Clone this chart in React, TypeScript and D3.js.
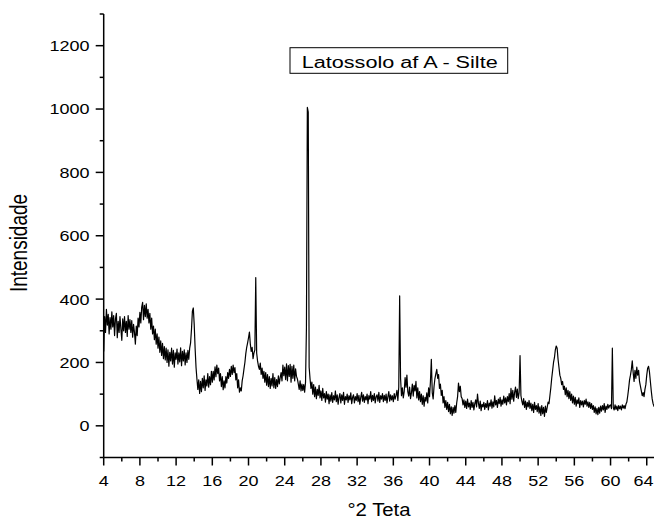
import * as d3 from 'd3';

// diffractogram, step scan in °2θ
const scanStep = 0.1;
const segmentStarts = [4, 14, 26, 40, 53];

// 4.0 - 13.9
const lowAngle = [
  235, 345, 295, 368, 318, 352, 290, 342, 305, 360,
  312, 348, 285, 338, 355, 278, 330, 295, 345, 305,
  270, 338, 300, 345, 295, 330, 282, 348, 305, 335,
  295, 332, 280, 320, 295, 258, 315, 285, 340, 312,
  358, 325, 375, 390, 335, 380, 345, 385, 340, 368,
  325, 355, 305, 340, 290, 315, 272, 305, 258, 290,
  245, 280, 232, 268, 222, 260, 212, 250, 208, 245,
  200, 240, 188, 232, 205, 245, 195, 238, 185, 230,
  210, 242, 195, 230, 202, 246, 190, 235, 205, 240,
  192, 230, 200, 238, 210, 245, 262, 305, 362, 372,
];
// 14.0 - 25.9
const midAngle = [
  320, 245, 185, 148, 115, 145, 102, 140, 108, 150,
  120, 158, 112, 145, 126, 165, 122, 155, 130, 172,
  138, 172, 145, 186, 155, 192, 165, 182, 142, 165,
  124, 155, 114, 142, 120, 155, 135, 168, 150, 178,
  156, 188, 162, 192, 168, 184, 145, 165, 120, 145,
  106, 120, 110, 142, 158, 180, 200, 228, 248, 262,
  278, 296, 258, 235, 248, 212, 230, 240, 468, 230,
  205, 188, 178, 198, 162, 182, 150, 172, 138, 168,
  128, 162, 124, 155, 118, 150, 126, 165, 120, 152,
  118, 146, 124, 158, 132, 152, 168, 142, 192, 158,
  185, 146, 196, 142, 190, 156, 194, 138, 188, 150,
  192, 142, 180, 156, 148, 132, 115, 142, 110, 132,
];
// 26.0 - 39.9
const quartzRange = [
  112, 130, 106, 138, 310, 1005, 990, 185, 148, 118,
  138, 100, 130, 92, 122, 86, 115, 96, 128, 88,
  110, 80, 118, 88, 102, 75, 108, 84, 100, 70,
  98, 78, 105, 74, 95, 82, 110, 76, 98, 68,
  90, 102, 72, 98, 80, 106, 68, 92, 82, 100,
  74, 95, 82, 104, 70, 90, 98, 72, 92, 80,
  102, 76, 96, 68, 90, 106, 78, 98, 74, 92,
  82, 100, 70, 95, 84, 108, 76, 96, 80, 102,
  72, 92, 98, 78, 106, 74, 95, 84, 102, 76,
  96, 80, 100, 72, 92, 108, 78, 98, 82, 95,
  76, 102, 84, 96, 112, 80, 122, 410, 150, 95,
  120, 88, 108, 152, 122, 160, 108, 94, 122, 86,
  104, 132, 94, 128, 110, 140, 88, 120, 82, 108,
  76, 100, 68, 95, 62, 90, 78, 104, 72, 120,
];
// 40.0 - 52.9
const highAngle = [
  92, 140, 210, 105, 85, 125, 150, 165, 178, 150,
  162, 118, 132, 96, 112, 72, 92, 58, 80, 52,
  74, 45, 68, 38, 60, 33, 58, 40, 64, 42,
  72, 92, 135, 108, 125, 92, 86, 66, 82, 58,
  78, 55, 84, 60, 72, 52, 80, 58, 74, 50,
  70, 82, 60, 100, 72, 55, 78, 48, 68, 60,
  74, 52, 70, 58, 80, 50, 72, 62, 82, 56,
  76, 60, 95, 66, 80, 58, 84, 70, 90, 62,
  82, 68, 94, 72, 88, 66, 92, 76, 102, 70,
  118, 84, 112, 78, 106, 122, 90, 116, 86, 105,
  222, 95, 78, 66, 86, 58, 78, 52, 74, 60,
  80, 55, 72, 48, 68, 42, 74, 52, 64, 45,
  70, 40, 60, 33, 64, 38, 58, 30, 62, 42,
];
// 53.0 - 65.0
const tailAngle = [
  58, 75, 70, 95, 120, 150, 175, 200, 215, 240,
  252, 245, 210, 185, 160, 150, 130, 140, 115, 125,
  98, 120, 92, 112, 86, 108, 80, 100, 72, 94,
  68, 90, 62, 82, 70, 88, 58, 80, 66, 78,
  60, 80, 68, 84, 62, 76, 58, 74, 55, 70,
  52, 64, 42, 60, 38, 55, 35, 58, 40, 62,
  46, 64, 50, 70, 42, 62, 52, 68, 56, 64,
  66, 54, 245, 58, 50, 66, 52, 62, 48, 64,
  54, 62, 50, 66, 56, 64, 54, 68, 75, 95,
  118, 145, 160, 178, 205, 168, 140, 175, 150, 185,
  160, 175, 140, 125, 110, 95, 105, 92, 115, 130,
  160, 182, 188, 170, 140, 110, 85, 70, 62, 58,
  60,
];

const segments = [lowAngle, midAngle, quartzRange, highAngle, tailAngle];

const xTicks = [4, 8, 12, 16, 20, 24, 28, 32, 36, 40, 44, 48, 52, 56, 60, 64];
const yTicks = [0, 200, 400, 600, 800, 1000, 1200];
const xLabel = '°2 Teta';
const yLabel = 'Intensidade';
const legendLabel = 'Latossolo af A - Silte';

const width = 654;
const height = 522;
const font = 'Arial, "Liberation Sans", sans-serif';
const stretch = 1.2;

export default function App() {
  const x = d3.scaleLinear().domain([4, 65]).range([103.7, 655.8]);
  const y = d3.scaleLinear().domain([-100, 1300]).range([457.5, 14]);

  const points: [number, number][] = segments.flatMap((seg, s) =>
    seg.map((v, i) => [segmentStarts[s] + i * scanStep, v] as [number, number])
  );
  const line = d3.line<[number, number]>()
    .x(d => x(d[0]))
    .y(d => y(d[1]));

  const xMinor = d3.range(4, 65, 2).filter(v => !xTicks.includes(v));
  const yMinor = d3.range(-100, 1301, 100).filter(v => !yTicks.includes(v));
  const x0 = x(4);
  const yb = y(-100);

  return (
    <svg width={width} height={height}
      style={{position: 'absolute', left: 0, top: 0, background: '#fff'}}
      fontFamily={font}>
      <rect width={width} height={height} fill="#fff" />
      <defs>
        <clipPath id="plot">
          <rect x={x0} y={0} width={width - x0} height={yb} />
        </clipPath>
      </defs>
      {/* trace */}
      <path d={line(points) || ''} fill="none" stroke="#000" strokeWidth={1.2}
        strokeLinejoin="round" clipPath="url(#plot)" />

      {/* axes */}
      <line x1={x0} x2={width} y1={yb} y2={yb} stroke="#000" strokeWidth={1.5} />
      <line x1={x0} x2={x0} y1={y(1300)} y2={yb} stroke="#000" strokeWidth={1.5} />

      {xTicks.map(t => (
        <g key={'xt' + t}>
          <line x1={x(t)} x2={x(t)} y1={yb} y2={yb + 8} stroke="#000" strokeWidth={1.5} />
          <g transform={`translate(${Math.min(x(t), 643.5)},486) scale(${stretch},1)`}>
            <text textAnchor="middle" fontSize={15} fill="#000">{t}</text>
          </g>
        </g>
      ))}
      {xMinor.map(t => (
        <line key={'xm' + t} x1={x(t)} x2={x(t)} y1={yb} y2={yb + 4} stroke="#000" strokeWidth={1.5} />
      ))}

      {yTicks.map(t => (
        <g key={'yt' + t}>
          <line x1={x0 - 8} x2={x0} y1={y(t)} y2={y(t)} stroke="#000" strokeWidth={1.5} />
          <g transform={`translate(89.5,${y(t)}) scale(${stretch},1)`}>
            <text textAnchor="end" dy="0.36em" fontSize={15} fill="#000">{t}</text>
          </g>
        </g>
      ))}
      {yMinor.map(t => (
        <line key={'ym' + t} x1={x0 - 4} x2={x0} y1={y(t)} y2={y(t)} stroke="#000" strokeWidth={1.5} />
      ))}

      {/* axis titles */}
      <g transform={`translate(379,516) scale(1.1,1)`}>
        <text textAnchor="middle" fontSize={18.5} fill="#000">{xLabel}</text>
      </g>
      <g transform={`translate(27,243) scale(1.25,1) rotate(-90)`}>
        <text textAnchor="middle" fontSize={19} fill="#000">{yLabel}</text>
      </g>

      {/* legend */}
      <rect x={290} y={47.7} width={217.7} height={25.6} fill="#fff" stroke="#000" strokeWidth={1} />
      <text x={301.7} y={68} fontSize={16} fill="#000"
        textLength={196} lengthAdjust="spacingAndGlyphs">{legendLabel}</text>
    </svg>
  );
}
